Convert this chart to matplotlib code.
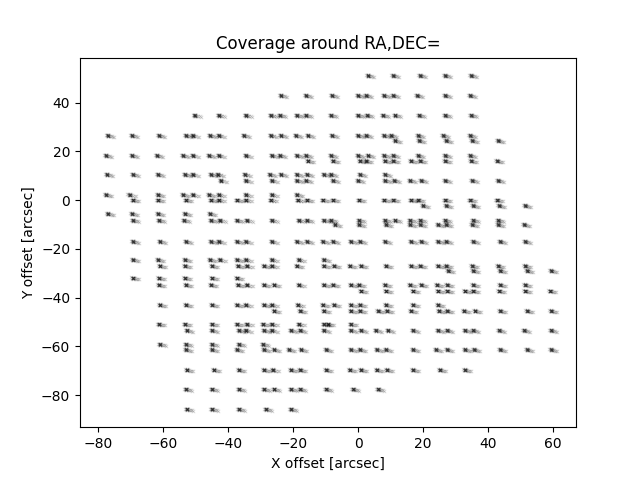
import numpy as np
import matplotlib
matplotlib.use("Agg")
import matplotlib.pyplot as plt

# Pointing-cluster centres (arcsec), grouped by row: row_y[i] with x values row_x[i]
row_y = [51.1, 42.9, 34.8, 26.5, 24.4, 18.3, 16.1, 10.5, 8.0, 2.2, 0.0, -2.3,
         -5.6, -8.3, -10.1, -17.0, -24.5, -27.0, -29.0, -32.0, -34.8, -37.3,
         -43.0, -45.5, -50.9, -53.5, -59.2, -61.4, -69.7, -77.6, -85.8]

row_x = [
    [3.1, 10.8, 19.1, 26.8, 34.8],
    [-23.7, -16.0, -8.0, 0.0, 2.5, 8.0, 10.8, 18.2, 26.8, 34.5],
    [-50.2, -42.8, -34.5, -26.8, -24.0, -18.8, -16.0, -8.3, 0.0, 2.8, 7.7, 11.4, 18.8, 26.8, 34.8],
    [-76.9, -69.5, -61.2, -52.9, -50.8, -45.5, -42.8, -35.1, -26.8, -23.7, -19.1, -15.4, -8.0,
     0.0, 2.5, 8.0, 10.2, 18.5, 26.2, 34.5],
    [11.4, 18.8, 27.1, 35.1, 43.1],
    [-77.5, -69.5, -61.8, -53.8, -50.8, -45.8, -42.8, -34.5, -26.5, -24.0, -18.8, -16.0, -8.3,
     0.0, 3.1, 8.0, 10.8, 18.5, 26.8, 34.5],
    [-15.4, -7.7, 0.6, 2.5, 8.3, 10.8, 16.3, 19.1, 26.8, 34.8, 42.8],
    [-77.2, -69.2, -61.5, -53.2, -50.8, -45.2, -43.1, -34.8, -27.1, -23.7, -18.8, -15.7, -10.5,
     -8.3, 0.6, 8.3],
    [-42.2, -34.5, -26.5, -18.8, -16.0, -7.7, 0.0, 8.3, 11.1, 16.0, 19.4, 26.8, 35.1, 43.1],
    [-77.5, -70.2, -61.5, -53.8, -50.8, -45.8, -42.8, -34.5, -26.5, -18.8],
    [-69.2, -61.5, -52.9, -45.2, -42.8, -37.2, -34.5, -26.8, -18.5, -15.7, -10.8, -7.7, 0.3,
     8.0, 10.8, 16.3, 18.5, 26.8, 34.5, 42.8],
    [20.0, 27.1, 35.4, 43.4, 51.4],
    [-76.9, -69.5, -61.5, -53.2, -45.5],
    [-69.2, -61.2, -53.5, -45.2, -42.5, -37.2, -34.2, -26.5, -18.2, -15.7, -10.5, -8.3, 0.3,
     8.3, 11.4, 16.0, 19.1, 26.8, 35.4, 43.1],
    [-7.1, 0.3, 8.6, 16.0, 19.1, 24.6, 27.1, 35.1, 43.1, 51.1],
    [-69.2, -60.9, -52.9, -45.2, -42.8, -37.2, -34.5, -26.5, -18.8, -15.7, -10.8, -7.7, -2.2,
     0.6, 8.3, 16.3, 19.4, 24.6, 27.1, 35.4, 43.7, 51.4],
    [-69.2, -61.5, -53.2, -45.5, -42.5, -37.2, -34.5, -26.5, -18.2, -10.5],
    [-60.9, -53.2, -44.9, -36.9, -34.2, -28.9, -26.5, -18.8, -10.5, -7.4, -2.5, 0.9, 8.6,
     16.3, 19.1, 24.6, 27.1, 35.1, 43.1, 51.4],
    [27.7, 35.4, 43.7, 52.0, 59.4],
    [-69.2, -61.2, -53.2, -44.9, -37.2],
    [-61.2, -52.9, -45.2, -36.9, -34.2, -28.9, -25.8, -18.2, -10.5, -7.7, -2.2, 0.3, 8.3,
     16.0, 19.4, 24.3, 27.4, 35.4, 43.7, 51.4],
    [0.9, 8.6, 16.9, 24.6, 27.4, 32.9, 35.4, 43.4, 51.4, 59.1],
    [-60.9, -52.9, -44.9, -37.2, -34.5, -28.9, -26.5, -18.5, -10.8, -7.4, -2.2, 0.6, 8.6,
     16.9, 24.6],
    [-25.8, -17.8, -10.5, -2.2, 0.6, 6.2, 8.9, 16.3, 24.9, 27.4, 32.6, 36.0, 43.7, 52.0, 59.4],
    [-61.2, -53.2, -44.9, -37.2, -34.2, -29.2, -26.5, -18.2, -10.5, -9.2, -2.2],
    [-52.6, -44.9, -36.6, -34.5, -28.9, -26.5, -20.6, -17.8, -10.5, -2.2, 0.9, 5.5, 9.2,
     16.9, 24.6, 27.4, 32.9, 35.4, 43.4, 51.1, 59.4],
    [-60.9, -52.9, -44.9, -36.6, -29.2],
    [-52.9, -44.9, -37.2, -28.9, -25.8, -21.2, -17.5, -9.8, -2.2, 0.6, 5.8, 8.6, 16.9, 24.0,
     27.4, 32.9, 35.7, 43.7, 52.0, 59.4],
    [-52.6, -44.3, -36.6, -28.9, -26.2, -20.6, -17.8, -9.8, -2.5, 0.9, 5.8, 8.9, 16.9, 25.2,
     32.9],
    [-52.9, -44.9, -36.6, -28.9, -25.8, -20.6, -17.8, -9.8, -1.5, 6.2],
    [-52.6, -44.9, -36.6, -28.3, -20.6],
]

# Within-cluster dither pattern of the individual exposures (arcsec)
dither_dx = [0.0, 0.1, -0.1, 0.15, -0.15, 0.2, -0.2, 0.0, 0.05, -0.05, 0.1, -0.1,
             -0.7, -0.4, 0.5, 0.8, 1.1, 1.5, 1.9]
dither_dy = [0.0, 0.1, -0.1, -0.1, 0.1, 0.0, 0.05, 0.2, -0.2, 0.15, -0.15, 0.2,
             0.25, 0.15, -0.15, -0.25, -0.35, -0.45, -0.55]

xs, ys = [], []
for y0, xrow in zip(row_y, row_x):
    for x0 in xrow:
        for dx, dy in zip(dither_dx, dither_dy):
            xs.append(x0 + dx)
            ys.append(y0 + dy)

fig, ax = plt.subplots(figsize=(6.4, 4.8), dpi=100)
ax.scatter(xs, ys, marker='x', s=6, c='black', alpha=0.17, linewidths=0.6)
ax.set_xlim(-85.5, 67)
ax.set_ylim(-93.2, 58.5)
ax.set_xticks([-80, -60, -40, -20, 0, 20, 40, 60])
ax.set_yticks([-80, -60, -40, -20, 0, 20, 40])
ax.set_title("Coverage around RA,DEC=")
ax.set_xlabel("X offset [arcsec]")
ax.set_ylabel("Y offset [arcsec]")
fig.savefig("out.png", dpi=100)
